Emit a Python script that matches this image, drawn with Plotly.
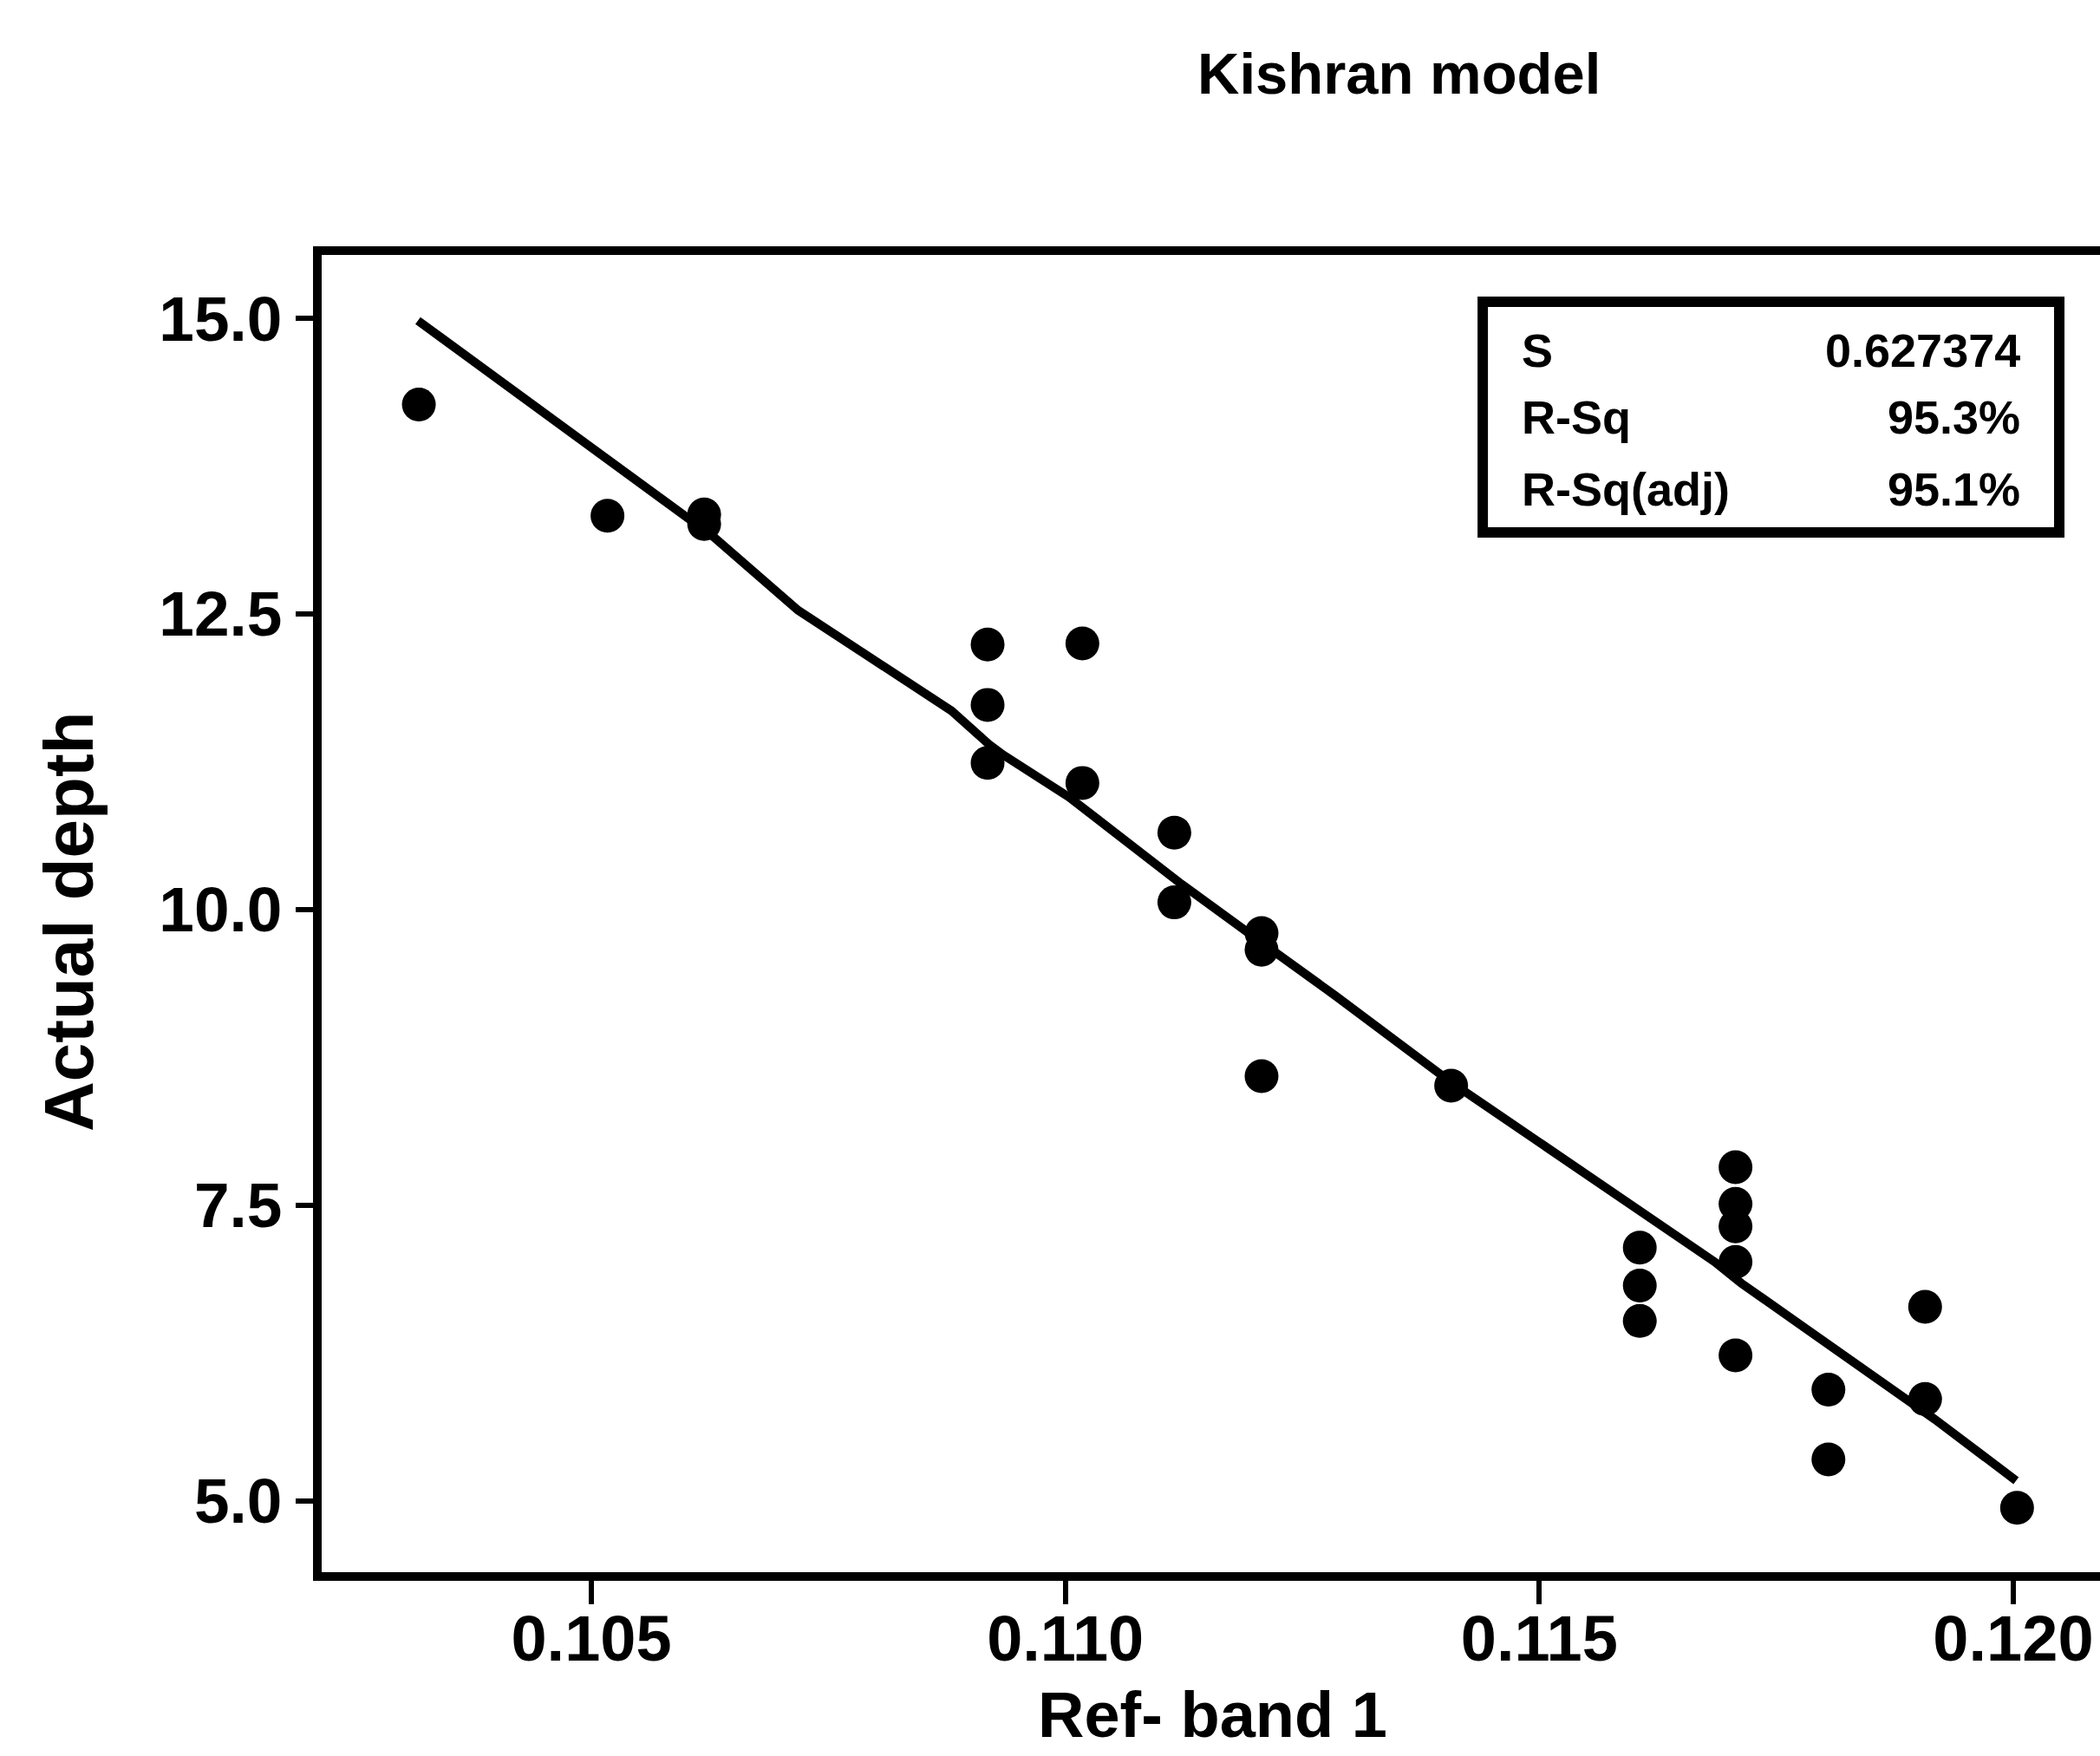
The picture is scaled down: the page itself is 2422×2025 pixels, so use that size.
import plotly.graph_objects as go

# ---- data ----
ref_band1 = [0.10318, 0.10517, 0.10619, 0.10619,
             0.10918, 0.10918, 0.10918,
             0.11018, 0.11018,
             0.11115, 0.11115,
             0.11207, 0.11207, 0.11207,
             0.11407,
             0.11606, 0.11606, 0.11606,
             0.11707, 0.11707, 0.11707, 0.11707, 0.11707,
             0.11805, 0.11805,
             0.11907, 0.11907,
             0.12004]
actual_depth = [14.27, 13.33, 13.34, 13.26,
                12.24, 11.73, 11.24,
                12.25, 11.07,
                10.65, 10.06,
                9.80, 9.66, 8.59,
                8.51,
                7.14, 6.82, 6.52,
                7.82, 7.51, 7.32, 7.02, 6.23,
                5.94, 5.35,
                6.64, 5.86,
                4.94]

fit_x = [0.10317, 0.10595, 0.10629, 0.10718, 0.10880, 0.10919, 0.10934,
         0.11004, 0.11120, 0.11209, 0.11285, 0.11405, 0.11608, 0.11685,
         0.11713, 0.11887, 0.11917, 0.12003]
fit_y = [14.98, 13.34, 13.15, 12.53, 11.68, 11.40, 11.31,
         10.95, 10.23, 9.71, 9.27, 8.55, 7.43, 7.02,
         6.84, 5.87, 5.69, 5.17]

x_tickvals = [0.105, 0.110, 0.115, 0.120]
x_ticktext = ["0.105", "0.110", "0.115", "0.120"]
y_tickvals = [5.0, 7.5, 10.0, 12.5, 15.0]
y_ticktext = ["5.0", "7.5", "10.0", "12.5", "15.0"]

stat_labels = ["S", "R-Sq", "R-Sq(adj)"]
stat_values = ["0.627374", "95.3%", "95.1%"]

title_text = "Kishran model"
x_title = "Ref- band 1"
y_title = "Actual depth"

# ---- figure ----
FONT = "Liberation Sans, Arial, sans-serif"

fig = go.Figure()
fig.add_trace(go.Scatter(x=fit_x, y=fit_y, mode="lines",
                         line=dict(color="black", width=10),
                         showlegend=False, hoverinfo="skip"))
fig.add_trace(go.Scatter(x=ref_band1, y=actual_depth, mode="markers",
                         marker=dict(color="black", size=39, line=dict(width=0)),
                         showlegend=False))

fig.update_layout(
    width=2422, height=2025,
    margin=dict(l=371, r=0, t=294, b=212),
    paper_bgcolor="white", plot_bgcolor="white",
    font=dict(family=FONT, color="black"),
    showlegend=False,
)

fig.update_xaxes(
    range=[0.102155, 0.120915],
    tickvals=x_tickvals, ticktext=x_ticktext,
    tickfont=dict(family=FONT, size=74, color="black", weight="bold"),
    ticks="outside", ticklen=27, tickwidth=6, tickcolor="black",
    ticklabelstandoff=-24,
    showline=True, linewidth=10, linecolor="black", mirror=True,
    showgrid=False, zeroline=False,
)
fig.update_yaxes(
    range=[4.396, 15.535],
    tickvals=y_tickvals, ticktext=y_ticktext,
    tickfont=dict(family=FONT, size=73, color="black", weight="bold"),
    ticks="outside", ticklen=20, tickwidth=6, tickcolor="black",
    ticklabelstandoff=1,
    showline=True, linewidth=10, linecolor="black", mirror=False,
    showgrid=False, zeroline=False,
)

# title and axis titles
fig.add_annotation(text=title_text, xref="paper", yref="paper",
                   x=0.6056, y=1.1382, xanchor="center", yanchor="middle",
                   showarrow=False,
                   font=dict(family=FONT, size=67, color="black", weight="bold"))
fig.add_annotation(text=x_title, xref="paper", yref="paper",
                   x=0.5012, y=-0.1086, xanchor="center", yanchor="middle",
                   showarrow=False,
                   font=dict(family=FONT, size=74, color="black", weight="bold"))
fig.add_annotation(text=y_title, xref="paper", yref="paper",
                   x=-0.1424, y=0.4937, xanchor="center", yanchor="middle",
                   textangle=-90, showarrow=False,
                   font=dict(family=FONT, size=80, color="black", weight="bold"))

# statistics box
fig.add_shape(type="rect", xref="paper", yref="paper",
              x0=0.6529, x1=0.9771, y0=0.7893, y1=0.9645,
              line=dict(color="black", width=12), fillcolor="white", layer="above")
row_y = [0.9276, 0.8769, 0.8222]
for lab, val, yy in zip(stat_labels, stat_values, row_y):
    fig.add_annotation(text=lab, xref="paper", yref="paper", x=0.6738, y=yy,
                       xanchor="left", yanchor="middle", showarrow=False,
                       font=dict(family=FONT, size=54, color="black", weight="bold"))
    fig.add_annotation(text=val, xref="paper", yref="paper", x=0.9561, y=yy,
                       xanchor="right", yanchor="middle", showarrow=False,
                       font=dict(family=FONT, size=54, color="black", weight="bold"))

fig.write_html("out.html")
